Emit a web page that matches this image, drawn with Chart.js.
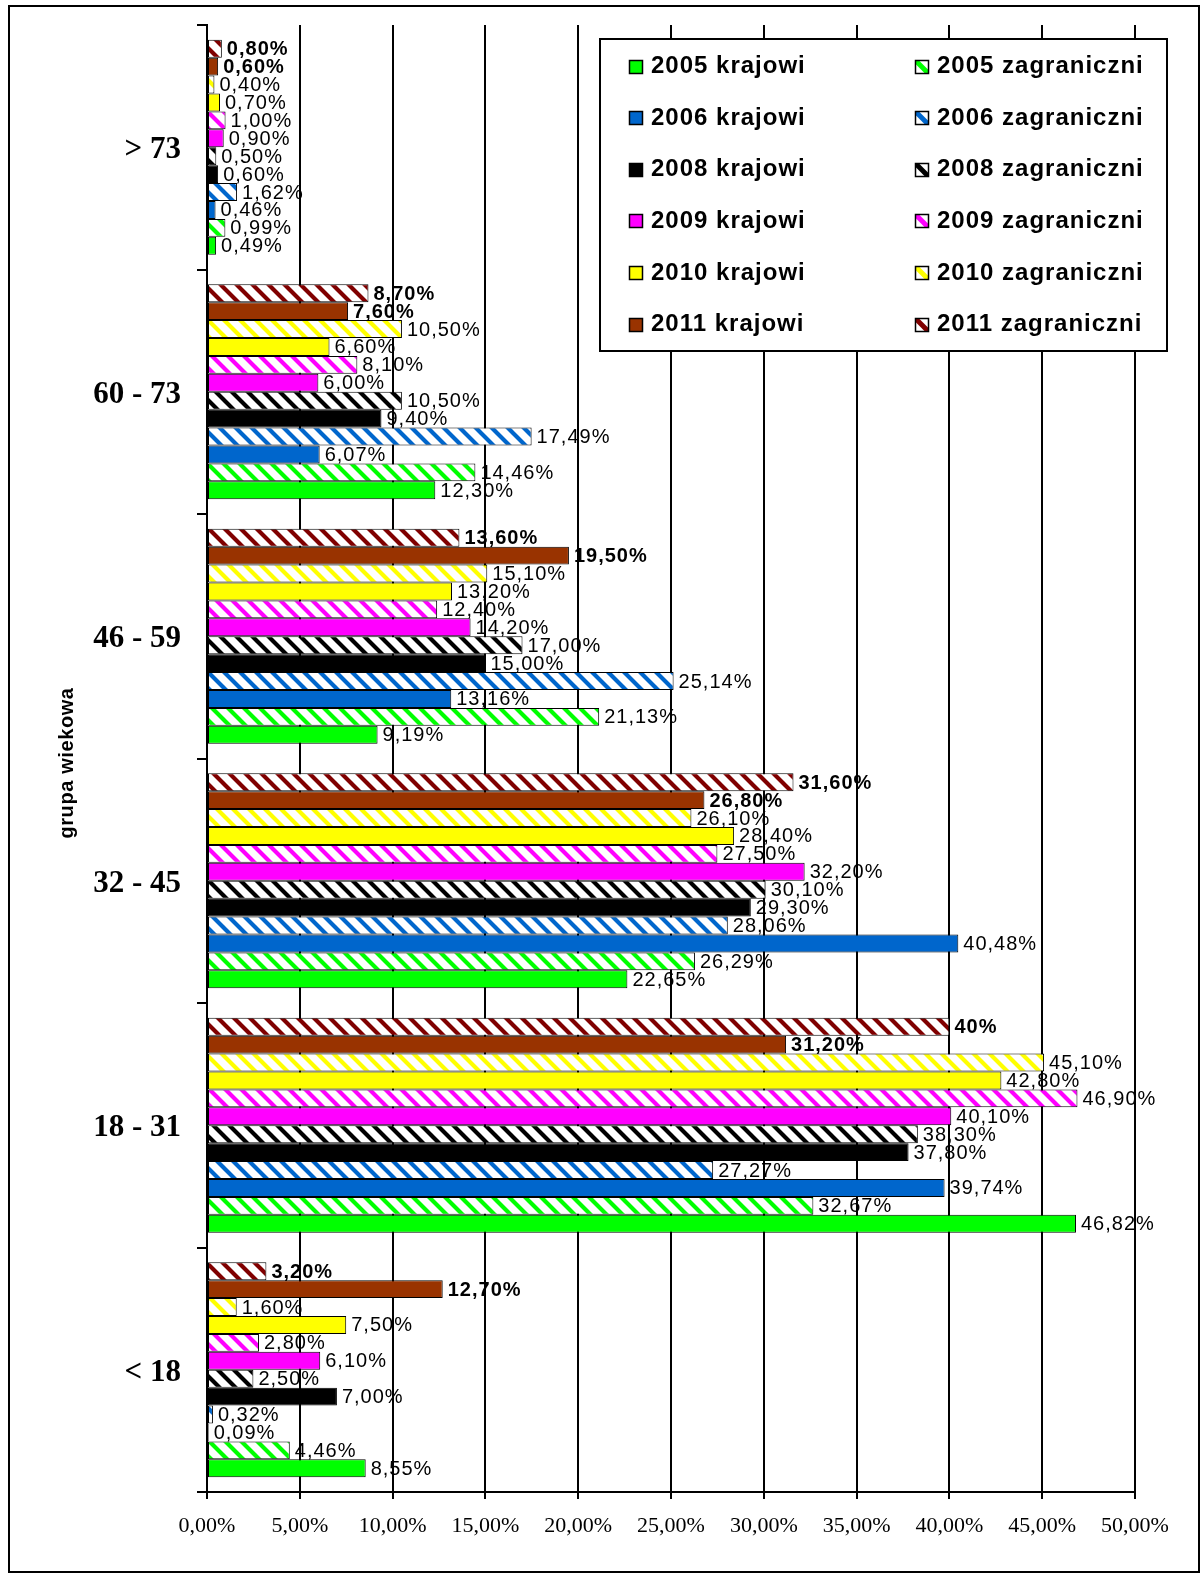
<!DOCTYPE html>
<html><head><meta charset="utf-8">
<script src="https://cdn.jsdelivr.net/npm/chart.js@4/dist/chart.umd.min.js"></script>
<style>html,body{margin:0;padding:0;background:#fff}canvas{display:block}</style>
</head><body>
<canvas id="c" width="1204" height="1577"></canvas>
<script>
// ---- DATA (categories listed top to bottom as drawn) ----
const categories = ['> 73', '60 - 73', '46 - 59', '32 - 45', '18 - 31', '< 18'];
const xMin = 0, xMax = 50, xStep = 5;
const axisTitle = 'grupa wiekowa';

const krajowi2005     = [0.49, 12.30,  9.19, 22.65, 46.82,  8.55];
const zagraniczni2005 = [0.99, 14.46, 21.13, 26.29, 32.67,  4.46];
const krajowi2006     = [0.46,  6.07, 13.16, 40.48, 39.74,  0.09];
const zagraniczni2006 = [1.62, 17.49, 25.14, 28.06, 27.27,  0.32];
const krajowi2008     = [0.60,  9.40, 15.00, 29.30, 37.80,  7.00];
const zagraniczni2008 = [0.50, 10.50, 17.00, 30.10, 38.30,  2.50];
const krajowi2009     = [0.90,  6.00, 14.20, 32.20, 40.10,  6.10];
const zagraniczni2009 = [1.00,  8.10, 12.40, 27.50, 46.90,  2.80];
const krajowi2010     = [0.70,  6.60, 13.20, 28.40, 42.80,  7.50];
const zagraniczni2010 = [0.40, 10.50, 15.10, 26.10, 45.10,  1.60];
const krajowi2011     = [0.60,  7.60, 19.50, 26.80, 31.20, 12.70];
const zagraniczni2011 = [0.80,  8.70, 13.60, 31.60, 40.00,  3.20];

const years = ['2005', '2006', '2008', '2009', '2010', '2011'];
const krajowiByYear = [krajowi2005, krajowi2006, krajowi2008, krajowi2009, krajowi2010, krajowi2011];
const zagraniczniByYear = [zagraniczni2005, zagraniczni2006, zagraniczni2008, zagraniczni2009, zagraniczni2010, zagraniczni2011];
// label text exceptions: [series name, category index, text]
const labelOverrides = [['2011 zagraniczni', 4, '40%']];

// ---- STYLES ----
const solidColors = ['#00FF00', '#0066CC', '#000000', '#FF00FF', '#FFFF00', '#993300'];
const hatchColors = ['#00FF00', '#0066CC', '#000000', '#FF00FF', '#FFFF00', '#800000'];
const boldYears = ['2011'];

function makeHatch(color) {
  const s = 16;
  const c = document.createElement('canvas');
  c.width = s; c.height = s;
  const x = c.getContext('2d');
  x.fillStyle = '#fff'; x.fillRect(0, 0, s, s);
  x.strokeStyle = color; x.lineWidth = 4.2;
  x.beginPath();
  for (let k = -2; k <= 2; k++) {
    x.moveTo(k * s - s, -s);
    x.lineTo(k * s + 2 * s, 2 * s);
  }
  x.stroke();
  return x.createPattern(c, 'repeat');
}
const ctxMain = document.getElementById('c').getContext('2d');
function fmt(v) { return v.toFixed(2).replace('.', ',') + '%'; }

// build series (bottom of group -> top of group)
const series = [];
years.forEach((y, i) => {
  series.push({ name: y + ' krajowi', data: krajowiByYear[i], fill: solidColors[i], hatched: false, color: solidColors[i], bold: boldYears.includes(y) });
  series.push({ name: y + ' zagraniczni', data: zagraniczniByYear[i], fill: makeHatch(hatchColors[i]), hatched: true, color: hatchColors[i], bold: boldYears.includes(y) });
});

// Chart.js draws dataset 0 at the top of each group -> reverse order
const datasets = series.slice().reverse().map(s => {
  const texts = s.data.map((v, j) => {
    const o = labelOverrides.find(r => r[0] === s.name && r[1] === j);
    return o ? o[2] : fmt(v);
  });
  return { label: s.name, data: s.data, backgroundColor: s.fill, labelTexts: texts, boldLabels: s.bold };
});

const dataLabelPlugin = {
  id: 'dataLabels',
  afterDatasetsDraw(chart) {
    const ctx = chart.ctx;
    ctx.save();
    chart.data.datasets.forEach((ds, i) => {
      const meta = chart.getDatasetMeta(i);
      meta.data.forEach((bar, j) => {
        ctx.font = (ds.boldLabels ? 'bold ' : '') + '20px "Liberation Sans", Arial, sans-serif';
        ctx.letterSpacing = '1px';
        ctx.fillStyle = '#000';
        ctx.textAlign = 'left';
        ctx.textBaseline = 'middle';
        ctx.fillText(ds.labelTexts[j], bar.x + 5, bar.y + 1);
      });
    });
    ctx.restore();
  }
};

const decorPlugin = {
  id: 'decor',
  afterDraw(chart) {
    const ctx = chart.ctx;
    ctx.save();
    // outer frame
    ctx.strokeStyle = '#000'; ctx.lineWidth = 2;
    ctx.strokeRect(9, 6, 1190, 1566);
    // axis title
    ctx.save();
    ctx.translate(67, 763);
    ctx.rotate(-Math.PI / 2);
    ctx.font = 'bold 20px "Liberation Sans", Arial, sans-serif';
    ctx.letterSpacing = '0.6px';
    ctx.fillStyle = '#000'; ctx.textAlign = 'center'; ctx.textBaseline = 'middle';
    ctx.fillText(axisTitle, 0, 0);
    ctx.restore();
    // legend
    const L = 600, T = 39, R = 1167, B = 351;
    ctx.fillStyle = '#fff'; ctx.fillRect(L, T, R - L, B - T);
    ctx.strokeStyle = '#000'; ctx.lineWidth = 2; ctx.strokeRect(L, T, R - L, B - T);
    const colSw = [629, 915], colTx = [651, 937];
    ctx.font = 'bold 24px "Liberation Sans", Arial, sans-serif';
    ctx.letterSpacing = '1px';
    ctx.textAlign = 'left'; ctx.textBaseline = 'middle';
    series.forEach((s, idx) => {
      const row = Math.floor(idx / 2), col = idx % 2;
      const cy = 66.5 + row * 51.6;
      const sx = colSw[col], sy = Math.round(cy - 7), sz = 14;
      ctx.save();
      ctx.beginPath(); ctx.rect(sx, sy, sz, sz); ctx.clip();
      if (s.hatched) {
        ctx.fillStyle = '#fff'; ctx.fillRect(sx, sy, sz, sz);
        ctx.strokeStyle = s.color; ctx.lineWidth = 5;
        ctx.beginPath(); ctx.moveTo(sx - 2, sy - 2); ctx.lineTo(sx + sz + 2, sy + sz + 2); ctx.stroke();
      } else {
        ctx.fillStyle = s.color; ctx.fillRect(sx, sy, sz, sz);
      }
      ctx.restore();
      ctx.strokeStyle = '#000'; ctx.lineWidth = 1.5;
      ctx.strokeRect(sx + 0.5, sy + 0.5, sz - 1, sz - 1);
      ctx.fillStyle = '#000';
      ctx.fillText(s.name, colTx[col], cy);
    });
    ctx.restore();
  }
};

new Chart(ctxMain, {
  type: 'bar',
  data: { labels: categories, datasets },
  options: {
    indexAxis: 'y',
    responsive: false,
    animation: false,
    devicePixelRatio: 1,
    layout: { padding: { top: 25, right: 69, bottom: 0, left: 0 } },
    plugins: { legend: { display: false }, tooltip: { enabled: false } },
    datasets: { bar: { categoryPercentage: 0.879, barPercentage: 1, borderWidth: 1, borderColor: '#000', borderSkipped: false } },
    scales: {
      x: {
        min: xMin, max: xMax,
        ticks: { stepSize: xStep, autoSkip: false, maxRotation: 0, color: '#000', padding: 14,
                 font: { family: '"Liberation Serif", "Times New Roman", serif', size: 22 },
                 callback: v => fmt(v) },
        grid: { color: '#000', lineWidth: 2, tickLength: 7, drawTicks: true },
        border: { display: true, color: '#000', width: 2 },
        afterFit(s) { s.height = 85; }
      },
      y: {
        ticks: { color: '#000', padding: 16, labelOffset: 3,
                 font: { family: '"Liberation Serif", "Times New Roman", serif', size: 31, weight: 'bold' } },
        grid: { drawOnChartArea: false, offset: true, color: '#000', lineWidth: 2, tickLength: 10 },
        border: { display: true, color: '#000', width: 2 },
        afterFit(s) { s.width = 207; s.paddingTop = 0; s.paddingBottom = 0; }
      }
    }
  },
  plugins: [dataLabelPlugin, decorPlugin]
});
</script>
</body></html>
